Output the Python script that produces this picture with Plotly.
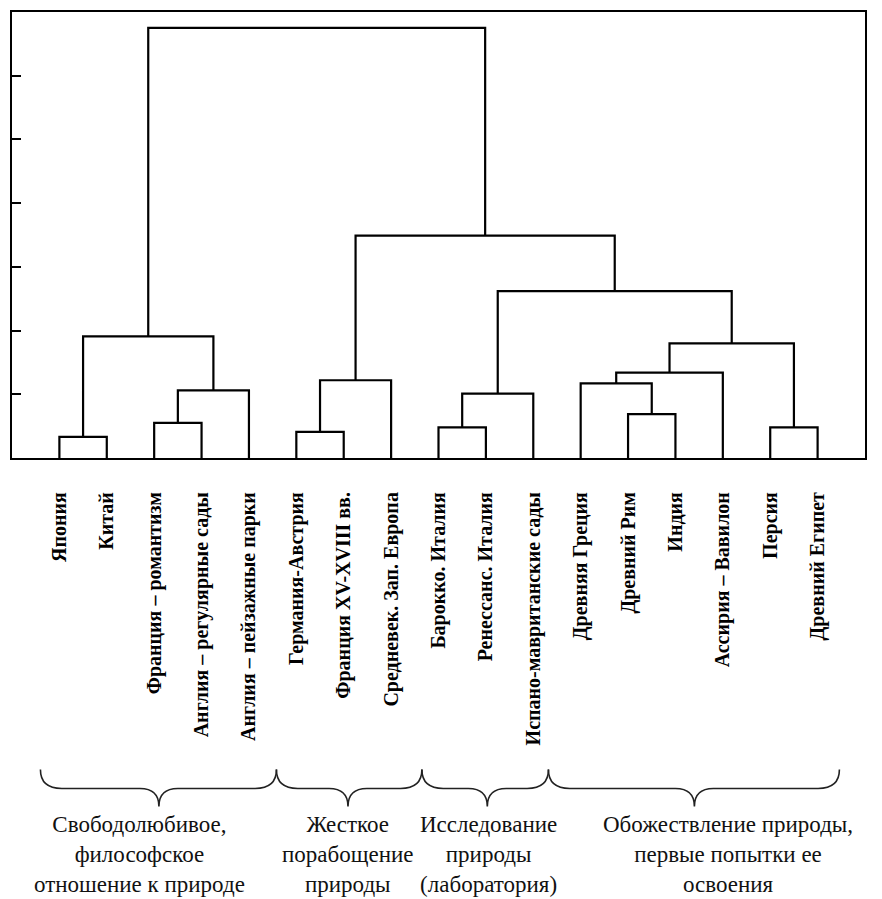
import plotly.graph_objects as go

# ---- data ----
leaves = ["Япония", "Китай", "Франция – романтизм", "Англия – регулярные сады",
          "Англия – пейзажные парки", "Германия-Австрия", "Франция XV-XVIII вв.",
          "Средневек. Зап. Европа", "Барокко. Италия", "Ренессанс. Италия",
          "Испано-мавританские сады", "Древняя Греция", "Древний Рим", "Индия",
          "Ассирия – Вавилон", "Персия", "Древний Египет"]

# merges: cluster ids 0..16 are leaves, new clusters get ids 17, 18, ...
merge_left = [0, 2, 18, 17, 5, 21, 8, 23, 12, 11, 26, 15, 27, 24, 22, 20]
merge_right = [1, 3, 4, 19, 6, 7, 9, 10, 13, 25, 14, 16, 28, 29, 30, 31]
merge_height = [0.33, 0.55, 1.06, 1.91, 0.41, 1.22, 0.48, 1.01, 0.69, 1.17,
                1.34, 0.48, 1.80, 2.62, 3.49, 6.75]

y_ticks = [1, 2, 3, 4, 5, 6]

group_text = ["Свободолюбивое,<br>философское<br>отношение к природе",
              "Жесткое<br>порабощение<br>природы",
              "Исследование<br>природы<br>(лаборатория)",
              "Обожествление природы,<br>первые попытки ее<br>освоения"]
group_start = [0.60, 5.58, 8.65, 11.32]
group_end = [5.58, 8.65, 11.32, 17.46]
group_tip = [3.10, 7.09, 10.03, 14.40]
group_text_x = [2.68, 7.09, 10.05, 15.1]

# ---- build dendrogram segments ----
n = len(leaves)
pos = {i: float(i + 1) for i in range(n)}
hgt = {i: 0.0 for i in range(n)}
xs, ys = [], []
for k, (a, b, h) in enumerate(zip(merge_left, merge_right, merge_height)):
    xa, xb = pos[a], pos[b]
    xs += [xa, xa, xb, xb, None]
    ys += [hgt[a], h, h, hgt[b], None]
    pos[n + k] = (xa + xb) / 2
    hgt[n + k] = h

fig = go.Figure()
fig.add_trace(go.Scatter(x=xs, y=ys, mode="lines",
                         line=dict(color="black", width=2.2),
                         hoverinfo="skip", showlegend=False))

# ---- braces and group captions ----
def py2paper(py):
    return (458 - py) / 448.0

yt, yl, yp = py2paper(771), py2paper(790), py2paper(808)
shapes = []
for x0, x1, xm in zip(group_start, group_end, group_tip):
    a, b = 0.45, 0.40
    path = (f"M {x0},{yt} Q {x0},{yl} {x0 + a},{yl} L {xm - b},{yl} "
            f"Q {xm},{yl} {xm},{yp} Q {xm},{yl} {xm + b},{yl} "
            f"L {x1 - a},{yl} Q {x1},{yl} {x1},{yt}")
    shapes.append(dict(type="path", path=path, xref="x", yref="paper",
                       line=dict(color="#222", width=1.6)))

annotations = []
for txt, x in zip(group_text, group_text_x):
    annotations.append(dict(text=txt, x=x, y=py2paper(856), xref="x", yref="paper",
                            showarrow=False, xanchor="center", yanchor="middle",
                            align="center",
                            font=dict(family="Liberation Serif", size=23, color="#111")))

fig.update_layout(
    width=882, height=899,
    margin=dict(l=12, r=17, t=10, b=441),
    paper_bgcolor="white", plot_bgcolor="white",
    shapes=shapes, annotations=annotations,
    xaxis=dict(range=[0, 18], tickmode="array", tickvals=list(range(1, n + 1)),
               ticktext=leaves, tickangle=-90, ticks="", showgrid=False, zeroline=False,
               showline=True, linecolor="black", linewidth=2.2, mirror=True,
               ticklabelstandoff=24,
               tickfont=dict(family="Liberation Serif", size=20, color="black", weight="bold")),
    yaxis=dict(range=[0, 7], tickmode="array", tickvals=y_ticks, showticklabels=False,
               ticks="inside", ticklen=9, tickwidth=2.2, tickcolor="black",
               showgrid=False, zeroline=False,
               showline=True, linecolor="black", linewidth=2.2, mirror=True),
)

fig.write_html("out.html", post_script="document.body.style.margin='0';",
               config={"displayModeBar": False})
